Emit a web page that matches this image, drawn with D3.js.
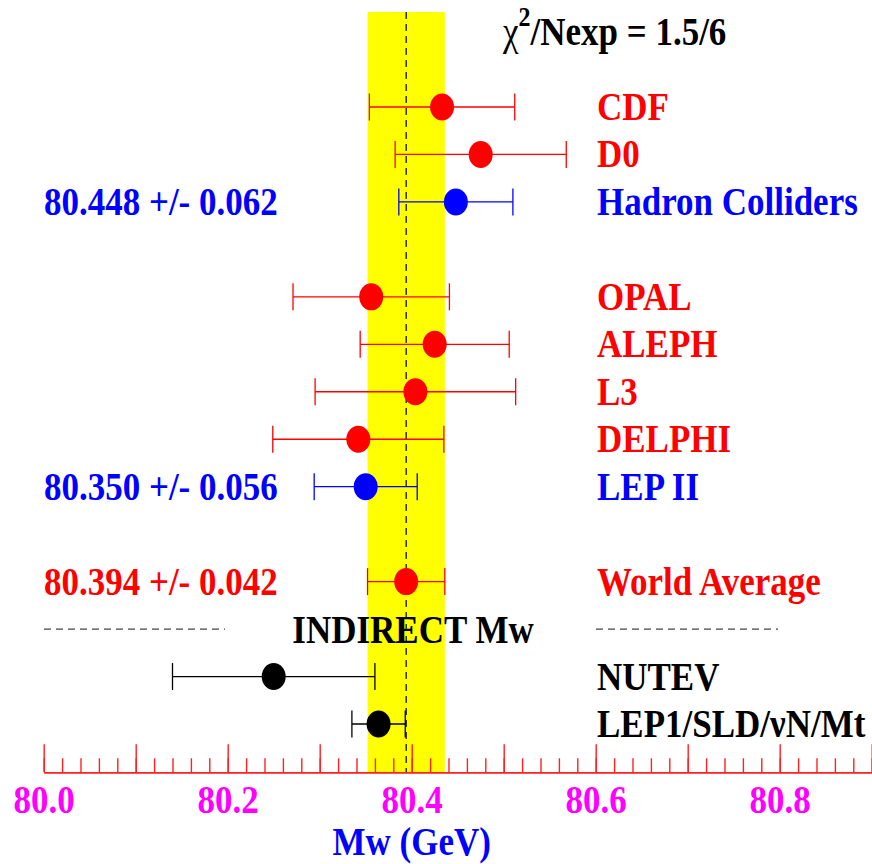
<!DOCTYPE html>
<html><head><meta charset="utf-8">
<script src="https://cdn.jsdelivr.net/npm/d3@7"></script>
<style>
html,body{margin:0;padding:0;background:#fff;}
svg{display:block;}
text{font-family:"Liberation Serif","Times New Roman",serif;font-weight:bold;}
</style></head>
<body>
<svg id="chart" width="872" height="864"></svg>
<script>
// ---- data ----
const rowNames = ["CDF","D0","Hadron Colliders","","OPAL","ALEPH","L3","DELPHI","LEP II","","World Average","INDIRECT Mw","NUTEV","LEP1/SLD/\u03bdN/Mt"];
const labels = ["CDF","D0","Hadron Colliders","OPAL","ALEPH","L3","DELPHI","LEP II","World Average","NUTEV","LEP1/SLD/\u03bdN/Mt"];
const values = [80.433,80.475,80.448,80.356,80.425,80.404,80.342,80.350,80.394,80.250,80.364];
const errors = [0.079,0.093,0.062,0.085,0.081,0.109,0.093,0.056,0.042,0.110,0.029];
const kinds  = ["exp","exp","comb","exp","exp","exp","exp","comb","avg","ind","ind"];
const summaryRows = ["Hadron Colliders","LEP II","World Average"];
const worldAverage = 80.394, worldError = 0.042;
const xDomain = [80.0, 80.9];
const majorTicks = d3.range(0,10).map(i => 80 + i/10);
const minorTicks = d3.range(0,46).map(i => 80 + i/50);
const labelTicks = [80.0,80.2,80.4,80.6,80.8];
const chiText = "/Nexp = 1.5/6";

// ---- styles ----
const colorOf = {exp:"#ff0000", comb:"#0000ff", avg:"#ff0000", ind:"#000000"};
const svg = d3.select("#chart");
const x = d3.scaleLinear().domain(xDomain).range([43.7, 871.7]);
const y = d3.scaleLinear().domain([0, rowNames.length-1]).range([107, 724]);
const rowY = name => y(rowNames.indexOf(name));
const axisY = 772.3;
const FS = 35, VS = 1.12;

function txt(g, s, tx, ty, color, anchor, size){
  return g.append("text")
    .attr("transform", `translate(${tx},${ty}) scale(1,${VS})`)
    .attr("fill", color).attr("text-anchor", anchor||"start")
    .attr("font-size", size||FS).text(s);
}

// yellow band
svg.append("rect")
  .attr("x", x(worldAverage-worldError)).attr("y", 12)
  .attr("width", x(worldAverage+worldError)-x(worldAverage-worldError))
  .attr("height", axisY-12).attr("fill", "#ffff00");
// dashed line
svg.append("line")
  .attr("x1", x(worldAverage)).attr("x2", x(worldAverage))
  .attr("y1", 12).attr("y2", axisY)
  .attr("stroke", "#000").attr("stroke-width", 1.2).attr("stroke-dasharray", "7,5");

// axis
const gMinor = svg.append("g").attr("transform", `translate(0,${axisY})`)
  .call(d3.axisTop(x).tickValues(minorTicks).tickSize(14).tickSizeOuter(0).tickFormat(""));
const gMajor = svg.append("g").attr("transform", `translate(0,${axisY})`)
  .call(d3.axisTop(x).tickValues(majorTicks).tickSize(28).tickSizeOuter(0).tickFormat(""));
[gMinor, gMajor].forEach(g => {
  g.selectAll("path,line").attr("stroke", "#ff2020").attr("stroke-width", 1.4);
});
const gLab = svg.append("g").attr("transform", `translate(0,${axisY})`)
  .call(d3.axisBottom(x).tickValues(labelTicks).tickSize(0).tickFormat(d3.format(".1f")));
gLab.select(".domain").remove();
gLab.selectAll("text").attr("fill", "#ff00ff").attr("font-size", FS)
  .attr("font-family", "Liberation Serif").attr("font-weight", "bold")
  .attr("y", 0).attr("dy", 0)
  .attr("transform", `translate(0,41) scale(1,${VS})`);

// axis title
txt(svg, "Mw (GeV)", x(80.4), 855, "#0000ff", "middle", 35);

// chi label
const chi = svg.append("text")
  .attr("transform", `translate(503,45) scale(1,${VS})`)
  .attr("font-size", FS).attr("fill", "#000");
chi.append("tspan").attr("font-weight", "normal").text("\u03c7");
chi.append("tspan").attr("dy", -17).attr("font-size", 24).text("2");
chi.append("tspan").attr("dy", 17).text(chiText);

// points
const data = labels.map((l,i) => ({label:l, v:values[i], e:errors[i], kind:kinds[i]}));
const pts = svg.append("g").selectAll("g").data(data).join("g")
  .attr("transform", d => `translate(0,${rowY(d.label)})`);
pts.append("line").attr("x1", d => x(d.v-d.e)).attr("x2", d => x(d.v+d.e))
  .attr("stroke", d => colorOf[d.kind]).attr("stroke-width", 1.3);
pts.append("line").attr("x1", d => x(d.v-d.e)).attr("x2", d => x(d.v-d.e))
  .attr("y1", -13.5).attr("y2", 13.5)
  .attr("stroke", d => colorOf[d.kind]).attr("stroke-width", 1.3);
pts.append("line").attr("x1", d => x(d.v+d.e)).attr("x2", d => x(d.v+d.e))
  .attr("y1", -13.5).attr("y2", 13.5)
  .attr("stroke", d => colorOf[d.kind]).attr("stroke-width", 1.3);
pts.append("ellipse").attr("cx", d => x(d.v)).attr("rx", 12).attr("ry", 13.5)
  .attr("fill", d => colorOf[d.kind]);

// right labels
data.forEach(d => txt(svg, d.label, 597, rowY(d.label)+13, colorOf[d.kind], "start"));

// left summary labels
const f3 = d3.format(".3f");
data.filter(d => summaryRows.includes(d.label)).forEach(d =>
  txt(svg, `${f3(d.v)} +/- ${f3(d.e)}`, 44, rowY(d.label)+13, colorOf[d.kind], "start"));

// indirect section
const yi = rowY("INDIRECT Mw");
txt(svg, "INDIRECT Mw", 413, yi+14, "#000", "middle");
[[44,225],[596,778]].forEach(([a,b]) =>
  svg.append("line").attr("x1", a).attr("x2", b).attr("y1", yi).attr("y2", yi)
    .attr("stroke", "#444").attr("stroke-width", 1.2).attr("stroke-dasharray", "7,5"));
</script>
</body></html>
